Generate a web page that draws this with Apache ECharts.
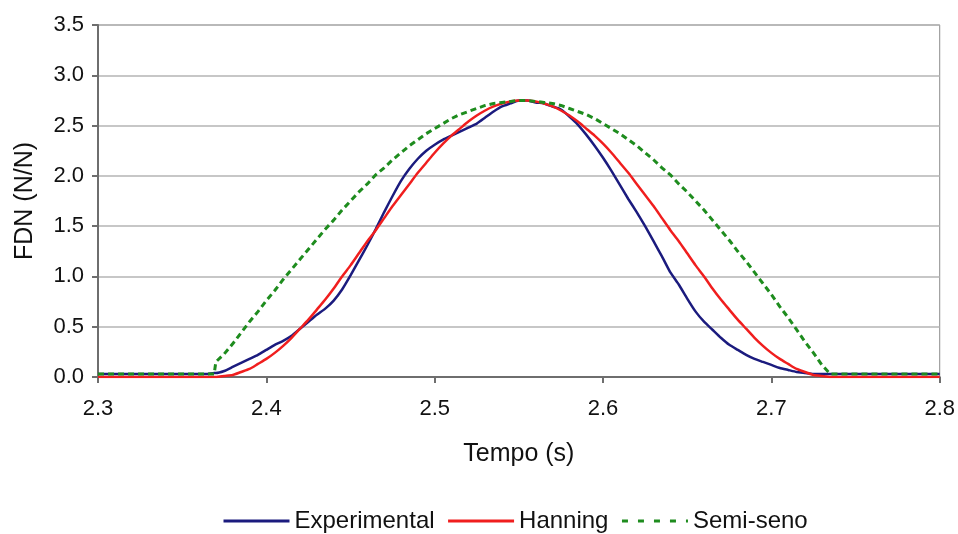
<!DOCTYPE html>
<html>
<head>
<meta charset="utf-8">
<title>FDN</title>
<script src="https://cdn.jsdelivr.net/npm/echarts@6/dist/echarts.min.js"></script>
<style>
  html, body { margin: 0; padding: 0; background: #fff; }
  #chart { width: 958px; height: 534px; }
</style>
</head>
<body>
<div id="chart"></div>
<script>
// tempo (s)
var tempo = [2.300, 2.365, 2.369,
  2.370, 2.375, 2.380, 2.385, 2.390, 2.395, 2.400, 2.405, 2.410, 2.415,
  2.420, 2.425, 2.430, 2.435, 2.440, 2.445, 2.450, 2.455, 2.460, 2.465,
  2.470, 2.475, 2.480, 2.485, 2.490, 2.495, 2.500, 2.505, 2.510, 2.515,
  2.520, 2.525, 2.530, 2.535, 2.540, 2.545, 2.550, 2.555, 2.560, 2.565,
  2.570, 2.575, 2.580, 2.585, 2.590, 2.595, 2.600, 2.605, 2.610, 2.615,
  2.620, 2.625, 2.630, 2.635, 2.640, 2.645, 2.650, 2.655, 2.660, 2.665,
  2.670, 2.675, 2.680, 2.685, 2.690, 2.695, 2.700, 2.705, 2.710, 2.715,
  2.720, 2.725, 2.730, 2.735,
  2.800];

var experimental = [0.03, 0.03, 0.04,
  0.04, 0.06, 0.10, 0.14, 0.18, 0.22, 0.27, 0.32, 0.36, 0.41,
  0.48, 0.55, 0.62, 0.68, 0.76, 0.87, 1.01, 1.16, 1.31, 1.47,
  1.64, 1.80, 1.95, 2.07, 2.17, 2.25, 2.31, 2.36, 2.40, 2.44,
  2.48, 2.52, 2.58, 2.64, 2.69, 2.72, 2.75, 2.75, 2.73, 2.72,
  2.69, 2.66, 2.59, 2.51, 2.41, 2.30, 2.18, 2.05, 1.91, 1.77,
  1.64, 1.50, 1.35, 1.20, 1.04, 0.92, 0.78, 0.65, 0.55, 0.47,
  0.39, 0.32, 0.27, 0.22, 0.18, 0.15, 0.12, 0.09, 0.07, 0.05,
  0.04, 0.03, 0.03, 0.03,
  0.03];

var hanning = [0.00, 0.00, 0.00,
  0.00, 0.01, 0.02, 0.05, 0.08, 0.13, 0.18, 0.24, 0.31, 0.39,
  0.48, 0.57, 0.67, 0.77, 0.88, 1.00, 1.11, 1.23, 1.35, 1.46,
  1.58, 1.70, 1.81, 1.92, 2.03, 2.13, 2.23, 2.32, 2.40, 2.47,
  2.54, 2.60, 2.65, 2.69, 2.72, 2.74, 2.75, 2.75, 2.74, 2.72,
  2.69, 2.65, 2.60, 2.54, 2.47, 2.40, 2.32, 2.23, 2.13, 2.03,
  1.92, 1.81, 1.70, 1.58, 1.46, 1.35, 1.23, 1.11, 1.00, 0.88,
  0.77, 0.67, 0.57, 0.48, 0.39, 0.31, 0.24, 0.18, 0.13, 0.08,
  0.05, 0.02, 0.01, 0.00,
  0.00];

var semiSeno = [0.03, 0.03, 0.03,
  0.15, 0.23, 0.33, 0.44, 0.55, 0.65, 0.76, 0.86, 0.97, 1.07,
  1.17, 1.27, 1.37, 1.47, 1.56, 1.66, 1.75, 1.84, 1.92, 2.01,
  2.08, 2.16, 2.23, 2.30, 2.36, 2.42, 2.47, 2.52, 2.57, 2.61,
  2.64, 2.67, 2.70, 2.72, 2.73, 2.74, 2.75, 2.75, 2.74, 2.73,
  2.72, 2.70, 2.67, 2.64, 2.61, 2.57, 2.52, 2.47, 2.42, 2.36,
  2.30, 2.23, 2.16, 2.08, 2.01, 1.92, 1.84, 1.75, 1.66, 1.56,
  1.46, 1.36, 1.25, 1.15, 1.04, 0.93, 0.82, 0.70, 0.59, 0.47,
  0.35, 0.24, 0.12, 0.03,
  0.03];

var xTicks = [2.3, 2.4, 2.5, 2.6, 2.7, 2.8];
var yTicks = [0, 0.5, 1.0, 1.5, 2.0, 2.5, 3.0, 3.5];

function pairs(vals) {
  return tempo.map(function (t, i) { return [t, vals[i]]; });
}

var font = '"Liberation Sans", Arial, sans-serif';

var option = {
  backgroundColor: '#fff',
  animation: false,
  textStyle: { fontFamily: font },
  grid: {
    left: 98, right: 16, top: 25, bottom: 157,
    show: true, borderColor: '#8c8c8c', borderWidth: 1
  },
  legend: {
    top: 504,
    left: 217,
    itemWidth: 66,
    itemHeight: 12,
    itemGap: 12,
    itemStyle: { opacity: 0 },
    lineStyle: { width: 3 },
    textStyle: { fontSize: 24, color: '#111', fontFamily: font },
    data: [
      { name: 'Experimental' },
      { name: 'Hanning' },
      { name: 'Semi-seno', lineStyle: { width: 3, type: [6, 10] } }
    ]
  },
  xAxis: {
    type: 'value',
    min: xTicks[0], max: xTicks[xTicks.length - 1], interval: 0.1,
    name: 'Tempo (s)', nameLocation: 'middle', nameGap: 65,
    nameTextStyle: { fontSize: 25, color: '#111', fontFamily: font },
    axisLine: { lineStyle: { color: '#6e6e6e', width: 2 } },
    axisTick: { show: true, length: 6, lineStyle: { color: '#6e6e6e', width: 2 } },
    axisLabel: { fontSize: 22, color: '#111', margin: 21, formatter: function (v) { return v.toFixed(1); } },
    splitLine: { show: false }
  },
  yAxis: {
    type: 'value',
    min: yTicks[0], max: yTicks[yTicks.length - 1], interval: 0.5,
    name: 'FDN (N/N)', nameLocation: 'middle', nameGap: 60,
    nameTextStyle: { fontSize: 25, color: '#111', fontFamily: font },
    axisLine: { show: true, lineStyle: { color: '#6e6e6e', width: 2 } },
    axisTick: { show: true, length: 6, lineStyle: { color: '#6e6e6e', width: 2 } },
    axisLabel: { fontSize: 22, color: '#111', margin: 14, formatter: function (v) { return v.toFixed(1); } },
    splitLine: { show: true, lineStyle: { color: '#b4b4b4', width: 1.5 } }
  },
  series: [
    {
      name: 'Experimental', type: 'line', data: pairs(experimental),
      showSymbol: false, symbol: 'none', smooth: 0.15,
      lineStyle: { color: '#1b1b7e', width: 2.5 },
      itemStyle: { color: '#1b1b7e' }
    },
    {
      name: 'Hanning', type: 'line', data: pairs(hanning),
      showSymbol: false, symbol: 'none', smooth: 0.2,
      lineStyle: { color: '#f01e1e', width: 2.5 },
      itemStyle: { color: '#f01e1e' }
    },
    {
      name: 'Semi-seno', type: 'line', data: pairs(semiSeno),
      showSymbol: false, symbol: 'none',
      lineStyle: { color: '#1e8c1e', width: 3, type: [6, 4] },
      itemStyle: { color: '#1e8c1e' }
    }
  ]
};

var myChart = echarts.init(document.getElementById('chart'));
myChart.setOption(option);

window.onresize = function () {
  myChart.resize();
};
</script>
</body>
</html>
